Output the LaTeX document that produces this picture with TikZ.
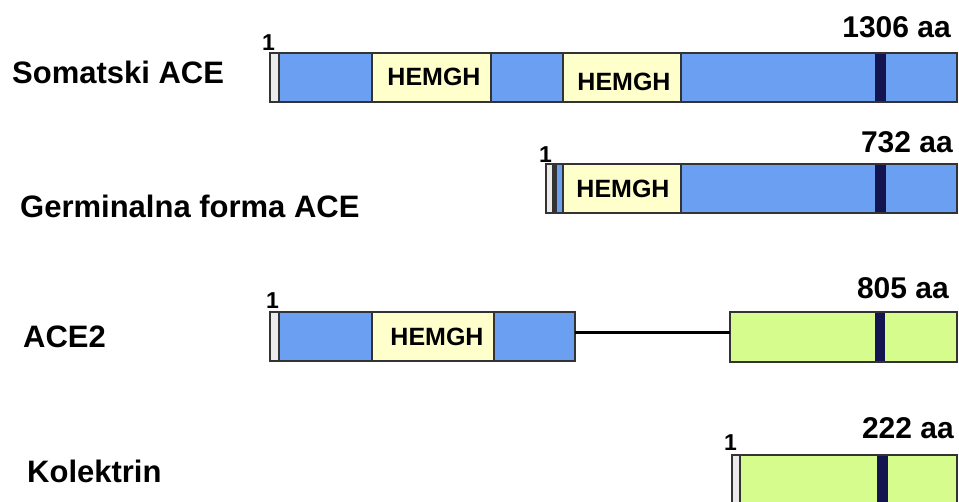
\documentclass[tikz,border=0pt]{standalone}
\usepackage{fontspec}
\setmainfont{Liberation Sans}
\definecolor{protblue}{HTML}{6A9FF2}
\definecolor{hemyel}{HTML}{FFFFCC}
\definecolor{protgreen}{HTML}{D6FC8E}
\definecolor{navy}{HTML}{141450}
\definecolor{edge}{HTML}{333333}
\tikzset{
  seg/.style={draw=edge, line width=1.2pt, inner sep=0pt, outer sep=0pt, anchor=north west, minimum height=49pt},
  stubbox/.style={seg, fill=white!92!black},
  bluebox/.style={seg, fill=protblue},
  yelbox/.style={seg, fill=hemyel},
  greenbox/.style={seg, fill=protgreen},
  navybar/.style={seg, fill=navy, draw=navy},
  protlbl/.style={anchor=base west, inner sep=0pt, font=\fontsize{31}{31}\selectfont\bfseries},
  lenlbl/.style={anchor=base east, inner sep=0pt, font=\fontsize{30}{30}\selectfont\bfseries},
  onelbl/.style={anchor=base west, inner sep=0pt, font=\fontsize{23}{23}\selectfont\bfseries},
  hemlbl/.style={anchor=base, inner sep=0pt, font=\fontsize{25}{25}\selectfont\bfseries},
  linker/.style={line width=3pt, black}
}
\begin{document}
\begin{tikzpicture}[x=1pt,y=-1pt]
\useasboundingbox (0,0) rectangle (959,501);
% Somatski ACE
\node[protlbl] (l1) at (12,83) {Somatski ACE};
\node[bluebox, minimum width=687pt] (s1) at (270,53) {};
\node[stubbox, minimum width=9pt] (s1a) at (270,53) {};
\node[yelbox, minimum width=119pt] (s1h1) at (372,53) {};
\node[yelbox, minimum width=118pt] (s1h2) at (563,53) {};
\node[navybar, minimum width=11pt, draw=none] (s1n) at (874.5,53.6) {};
\draw[edge, line width=1.2pt] (s1.north west) rectangle (s1.south east);
\node[hemlbl] (t1) at (434,85) {HEMGH};
\node[hemlbl] (t2) at (624,90) {HEMGH};
\node[onelbl] (o1) at (262,50) {1};
\node[lenlbl] (n1) at (951,37) {1306 aa};
% Germinalna forma ACE
\node[protlbl] (l2) at (20,217) {Germinalna forma ACE};
\node[bluebox, minimum width=411pt] (s2) at (546,164) {};
\node[stubbox, minimum width=7pt] (s2a) at (546,164) {};
\node[seg, fill=edge, minimum width=3pt] (s2b) at (553,164) {};
\node[yelbox, minimum width=118pt] (s2h) at (563,164) {};
\node[navybar, minimum width=11pt, draw=none] (s2n) at (874.5,164.6) {};
\draw[edge, line width=1.2pt] (s2.north west) rectangle (s2.south east);
\node[hemlbl] (t3) at (623,197) {HEMGH};
\node[onelbl] (o2) at (539,162) {1};
\node[lenlbl] (n2) at (953,152) {732 aa};
% ACE2
\node[protlbl] (l3) at (23,347) {ACE2};
\node[bluebox, minimum width=305pt] (s3) at (270,312) {};
\node[stubbox, minimum width=9pt] (s3a) at (270,312) {};
\node[yelbox, minimum width=122pt] (s3h) at (372,312) {};
\node[hemlbl] (t4) at (437,345) {HEMGH};
\node[greenbox, minimum width=227pt, minimum height=50pt] (s3g) at (730,312) {};
\node[navybar, minimum width=10pt, minimum height=49pt, draw=none] (s3n) at (875,312.6) {};
\draw[edge, line width=1.2pt] (s3g.north west) rectangle (s3g.south east);
\draw[linker] (s3.east |- 0,332) -- (s3g.west |- 0,332);
\node[onelbl] (o3) at (266,308) {1};
\node[lenlbl] (n3) at (949,298) {805 aa};
% Kolektrin
\node[protlbl] (l4) at (27,482) {Kolektrin};
\node[greenbox, minimum width=225pt, minimum height=52pt] (s4) at (732,455) {};
\node[stubbox, minimum width=8pt, minimum height=52pt] (s4a) at (732,455) {};
\node[navybar, minimum width=11pt, minimum height=52pt, draw=none] (s4n) at (877,455.6) {};
\draw[edge, line width=1.2pt] (s4.north west) rectangle (s4.south east);
\node[onelbl] (o4) at (724,450) {1};
\node[lenlbl] (n4) at (954,438) {222 aa};
\end{tikzpicture}
\end{document}
